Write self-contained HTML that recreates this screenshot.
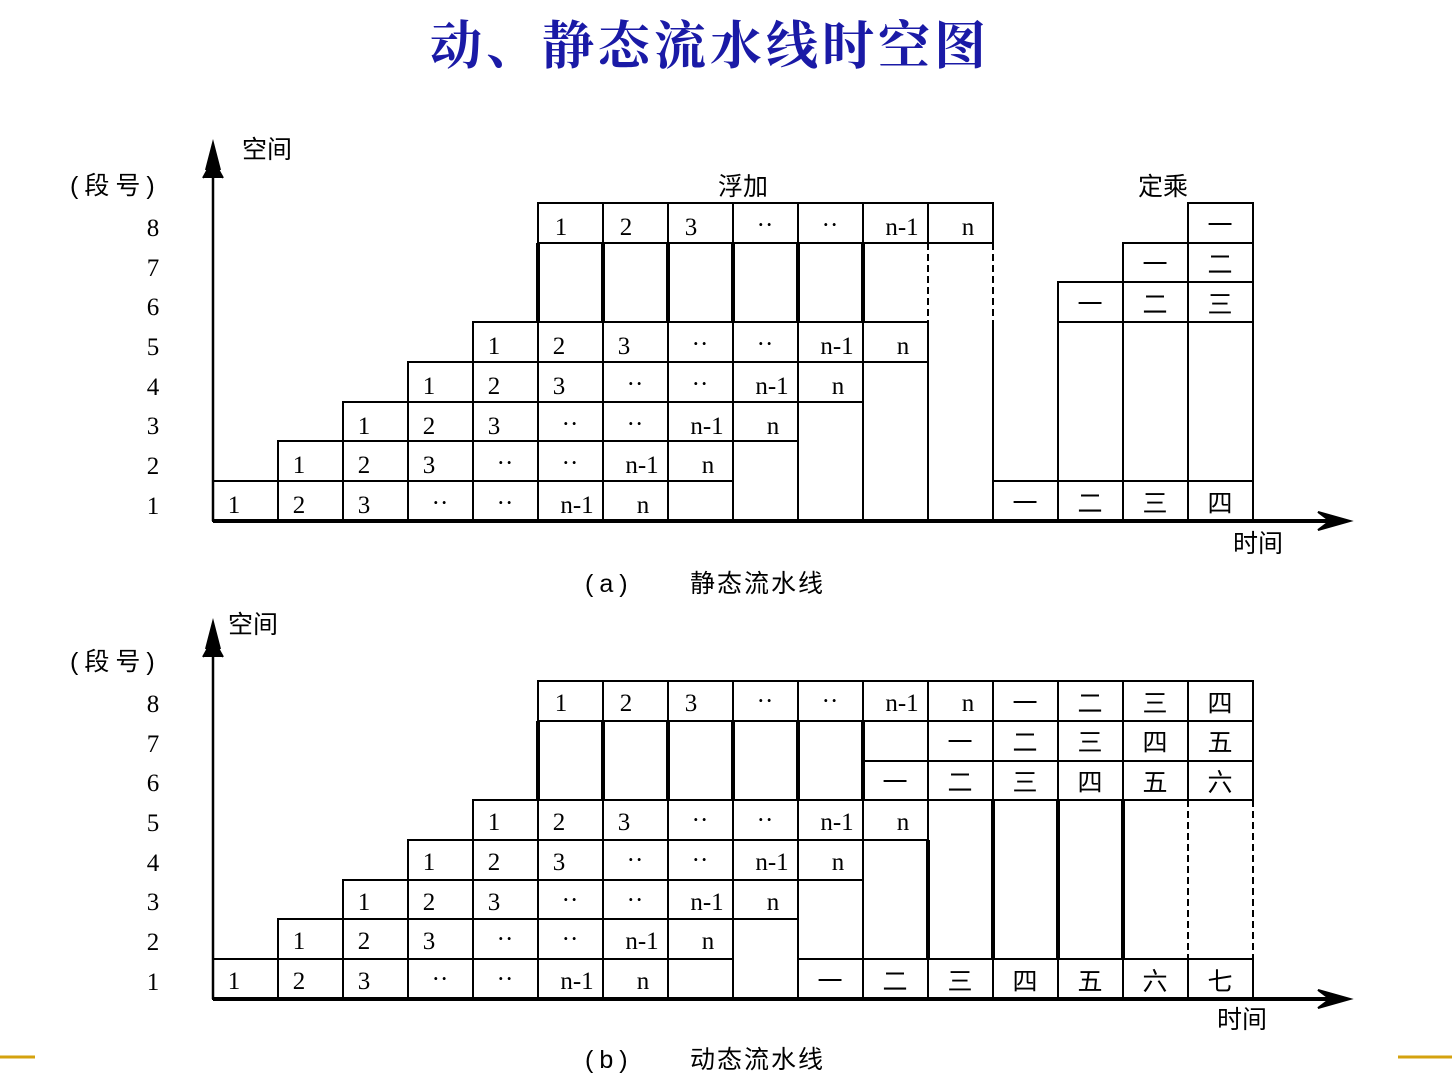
<!DOCTYPE html>
<html><head><meta charset="utf-8"><style>
html,body{margin:0;padding:0;background:#fff;}
svg{display:block}
.t{font-family:"Liberation Serif","Noto Sans CJK SC",serif;font-size:25px;fill:#000}
.c{font-family:"Liberation Sans","Noto Sans CJK SC",sans-serif;font-size:25px;fill:#000}
</style></head><body>
<svg width="1452" height="1088" viewBox="0 0 1452 1088" xmlns="http://www.w3.org/2000/svg">
<text x="710" y="64" text-anchor="middle" style="font-family:'Liberation Serif','Noto Serif CJK SC','Noto Sans CJK SC',serif;font-size:52px;font-weight:bold;letter-spacing:4px;fill:#1a1aa6">动、静态流水线时空图</text>
<line x1="0" y1="1057" x2="35" y2="1057" stroke="#d4a20e" stroke-width="3"/>
<line x1="1398" y1="1057" x2="1452" y2="1057" stroke="#d4a20e" stroke-width="3"/>

<g fill="none" stroke="#000" stroke-width="2">
<g id="A">
<rect x="213" y="481" width="455" height="40"/><path d="M278 481V521M343 481V521M408 481V521M473 481V521M538 481V521M603 481V521"/>
<rect x="668" y="481" width="65" height="40"/>
<rect x="278" y="441" width="455" height="40"/><path d="M343 441V481M408 441V481M473 441V481M538 441V481M603 441V481M668 441V481"/>
<rect x="343" y="402" width="455" height="39"/><path d="M408 402V441M473 402V441M538 402V441M603 402V441M668 402V441M733 402V441"/>
<rect x="408" y="362" width="455" height="40"/><path d="M473 362V402M538 362V402M603 362V402M668 362V402M733 362V402M798 362V402"/>
<rect x="473" y="322" width="455" height="40"/><path d="M538 322V362M603 322V362M668 322V362M733 322V362M798 322V362M863 322V362"/>
<rect x="538" y="203" width="455" height="40"/><path d="M603 203V243M668 203V243M733 203V243M798 203V243M863 203V243M928 203V243"/>
<rect x="733" y="441" width="65" height="80"/>
<rect x="798" y="402" width="65" height="119"/>
<rect x="863" y="362" width="65" height="159"/>
<path d="M928 322V521M993 322V521"/>
<path d="M928 243V322M993 243V322" stroke-dasharray="7,4"/>
<path d="M538 243H863" />
<path d="M538 243V322M603 243V322M668 243V322M733 243V322M798 243V322M863 243V322" stroke-width="4"/>
</g>
<use href="#A" transform="translate(0,478)"/>
<rect x="993" y="481" width="260" height="40"/><path d="M1058 481V521M1123 481V521M1188 481V521"/>
<rect x="1058" y="282" width="195" height="199"/><path d="M1058 322H1253M1123 243V481M1188 203V481"/>
<rect x="1123" y="243" width="130" height="39"/>
<rect x="1188" y="203" width="65" height="40"/>
<rect x="993" y="681" width="260" height="40"/><path d="M1058 681V721M1123 681V721M1188 681V721"/>
<rect x="863" y="721" width="390" height="79"/><path d="M928 721V800M993 721V800M1058 721V800M1123 721V800M1188 721V800M863 761H1253"/>
<path d="M863 721V761" stroke-width="4"/>
<rect x="798" y="959" width="455" height="40"/><path d="M863 959V999M928 959V999M993 959V999M1058 959V999M1123 959V999M1188 959V999"/>
<path d="M993 800V959M1058 800V959M1123 800V959" stroke-width="4"/>
<path d="M1188 800V959M1253 800V959" stroke-dasharray="7,4"/>
<path d="M928 840V959" stroke-width="4"/>
</g>

<g stroke="#000" fill="#000">
<line x1="213" y1="521" x2="1340" y2="521" stroke-width="4"/>
<line x1="213" y1="160" x2="213" y2="521" stroke-width="2.5"/>
<path d="M213 143L206 170L213 162L220 170Z M203 178L213 160L223 178" stroke-width="2"/>
<path d="M1350 521L1318 512L1330 521L1318 530Z" stroke-width="2"/>
<line x1="213" y1="999" x2="1340" y2="999" stroke-width="4"/>
<line x1="213" y1="640" x2="213" y2="999" stroke-width="2.5"/>
<path d="M213 622L206 649L213 641L220 649Z M203 657L213 639L223 657" stroke-width="2"/>
<path d="M1350 999L1318 990L1330 999L1318 1008Z" stroke-width="2"/>
</g>

<g class="c">
<text x="242" y="158">空间</text>
<text x="70" y="194" letter-spacing="6">(段号)</text>
<text x="718" y="195">浮加</text>
<text x="1138" y="195">定乘</text>
<text x="1233" y="552">时间</text>
<text x="585" y="592" letter-spacing="6">(a)</text>
<text x="690" y="592" letter-spacing="2">静态流水线</text>
<text x="228" y="633">空间</text>
<text x="70" y="670" letter-spacing="6">(段号)</text>
<text x="1217" y="1028">时间</text>
<text x="585" y="1068" letter-spacing="6">(b)</text>
<text x="690" y="1068" letter-spacing="2">动态流水线</text>
</g>
<g class="t" text-anchor="middle">
<text x="153" y="236">8</text><text x="153" y="276">7</text><text x="153" y="315">6</text><text x="153" y="355">5</text><text x="153" y="395">4</text><text x="153" y="434">3</text><text x="153" y="474">2</text><text x="153" y="514">1</text>
<text x="153" y="712">8</text><text x="153" y="752">7</text><text x="153" y="791">6</text><text x="153" y="831">5</text><text x="153" y="871">4</text><text x="153" y="910">3</text><text x="153" y="950">2</text><text x="153" y="990">1</text>
</g>
<g class="t" text-anchor="middle" id="L">
<text x="234" y="513">1</text><text x="299" y="513">2</text><text x="364" y="513">3</text><text x="440" y="511">··</text><text x="505" y="511">··</text><text x="577" y="513">n-1</text><text x="643" y="513">n</text>
<text x="299" y="473">1</text><text x="364" y="473">2</text><text x="429" y="473">3</text><text x="505" y="471">··</text><text x="570" y="471">··</text><text x="642" y="473">n-1</text><text x="708" y="473">n</text>
<text x="364" y="434">1</text><text x="429" y="434">2</text><text x="494" y="434">3</text><text x="570" y="432">··</text><text x="635" y="432">··</text><text x="707" y="434">n-1</text><text x="773" y="434">n</text>
<text x="429" y="394">1</text><text x="494" y="394">2</text><text x="559" y="394">3</text><text x="635" y="392">··</text><text x="700" y="392">··</text><text x="772" y="394">n-1</text><text x="838" y="394">n</text>
<text x="494" y="354">1</text><text x="559" y="354">2</text><text x="624" y="354">3</text><text x="700" y="352">··</text><text x="765" y="352">··</text><text x="837" y="354">n-1</text><text x="903" y="354">n</text>
<text x="561" y="235">1</text><text x="626" y="235">2</text><text x="691" y="235">3</text><text x="765" y="233">··</text><text x="830" y="233">··</text><text x="902" y="235">n-1</text><text x="968" y="235">n</text>
</g>
<use href="#L" transform="translate(0,476)"/>
<g class="c" text-anchor="middle">
<text x="1025" y="512">一</text><text x="1090" y="512">二</text><text x="1155" y="512">三</text><text x="1220" y="512">四</text>
<text x="1090" y="313">一</text><text x="1155" y="313">二</text><text x="1220" y="313">三</text>
<text x="1155" y="273">一</text><text x="1220" y="273">二</text>
<text x="1220" y="234">一</text>
<text x="1025" y="712">一</text><text x="1090" y="712">二</text><text x="1155" y="712">三</text><text x="1220" y="712">四</text>
<text x="960" y="751">一</text><text x="1025" y="751">二</text><text x="1090" y="751">三</text><text x="1155" y="751">四</text><text x="1220" y="751">五</text>
<text x="895" y="791">一</text><text x="960" y="791">二</text><text x="1025" y="791">三</text><text x="1090" y="791">四</text><text x="1155" y="791">五</text><text x="1220" y="791">六</text>
<text x="830" y="990">一</text><text x="895" y="990">二</text><text x="960" y="990">三</text><text x="1025" y="990">四</text><text x="1090" y="990">五</text><text x="1155" y="990">六</text><text x="1220" y="990">七</text>
</g>
</svg>
</body></html>
